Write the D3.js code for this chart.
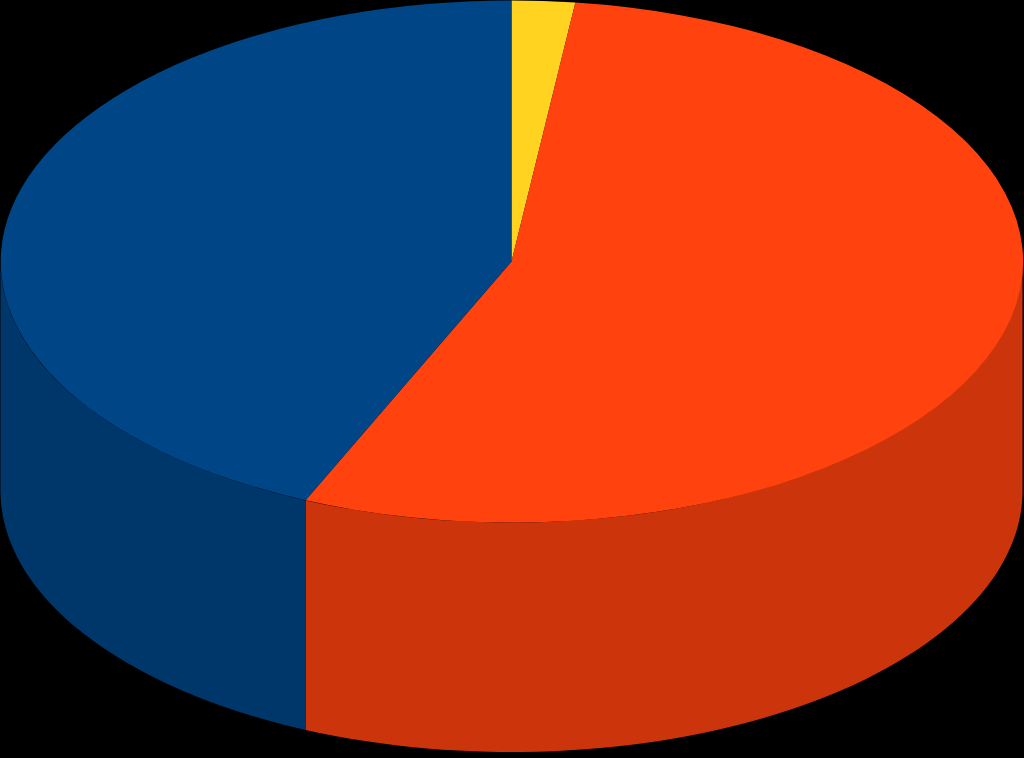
<!DOCTYPE html>
<html>
<head>
<meta charset="utf-8">
<script src="https://cdn.jsdelivr.net/npm/d3@7"></script>
<style>
  html, body { margin: 0; padding: 0; background: #000; overflow: hidden; }
  svg { display: block; }
</style>
</head>
<body>
<script>
var categories = ["A", "B", "C"];
var values = [2.0, 54.6, 43.4];
var topColors = ["#ffd320", "#ff420e", "#004586"];
var sideColors = ["#c9a60f", "#cc350b", "#00376b"];

var width = 1024, height = 758;
var cx = 511.5, cy = 261.5, rx = 511, ry = 261, depth = 229.5;

var svg = d3.select("body").append("svg")
    .attr("width", width)
    .attr("height", height);

svg.append("rect").attr("width", width).attr("height", height).attr("fill", "#000");

var pie = d3.pie().sort(null)(values);

// side walls first, only the front half of the ellipse can be seen
function wall(d) {
    var a0 = Math.max(d.startAngle, Math.PI / 2);
    var a1 = Math.min(d.endAngle, Math.PI * 1.5);
    if (a1 <= a0) return null;
    var x0 = cx + rx * Math.sin(a0), y0 = cy - ry * Math.cos(a0);
    var x1 = cx + rx * Math.sin(a1), y1 = cy - ry * Math.cos(a1);
    return "M" + x0 + "," + y0
        + "A" + rx + "," + ry + " 0 0 1 " + x1 + "," + y1
        + "L" + x1 + "," + (y1 + depth)
        + "A" + rx + "," + ry + " 0 0 0 " + x0 + "," + (y0 + depth)
        + "Z";
}

svg.append("g").selectAll("path")
    .data(pie)
    .enter().append("path")
    .attr("d", wall)
    .attr("fill", function(d, i) { return sideColors[i]; });

// top face, unit arc squashed into an ellipse
var arc = d3.arc().innerRadius(0).outerRadius(1);

svg.append("g")
    .attr("transform", "translate(" + cx + "," + cy + ") scale(" + rx + "," + ry + ")")
  .selectAll("path")
    .data(pie)
    .enter().append("path")
    .attr("d", arc)
    .attr("fill", function(d, i) { return topColors[i]; });
</script>
</body>
</html>
